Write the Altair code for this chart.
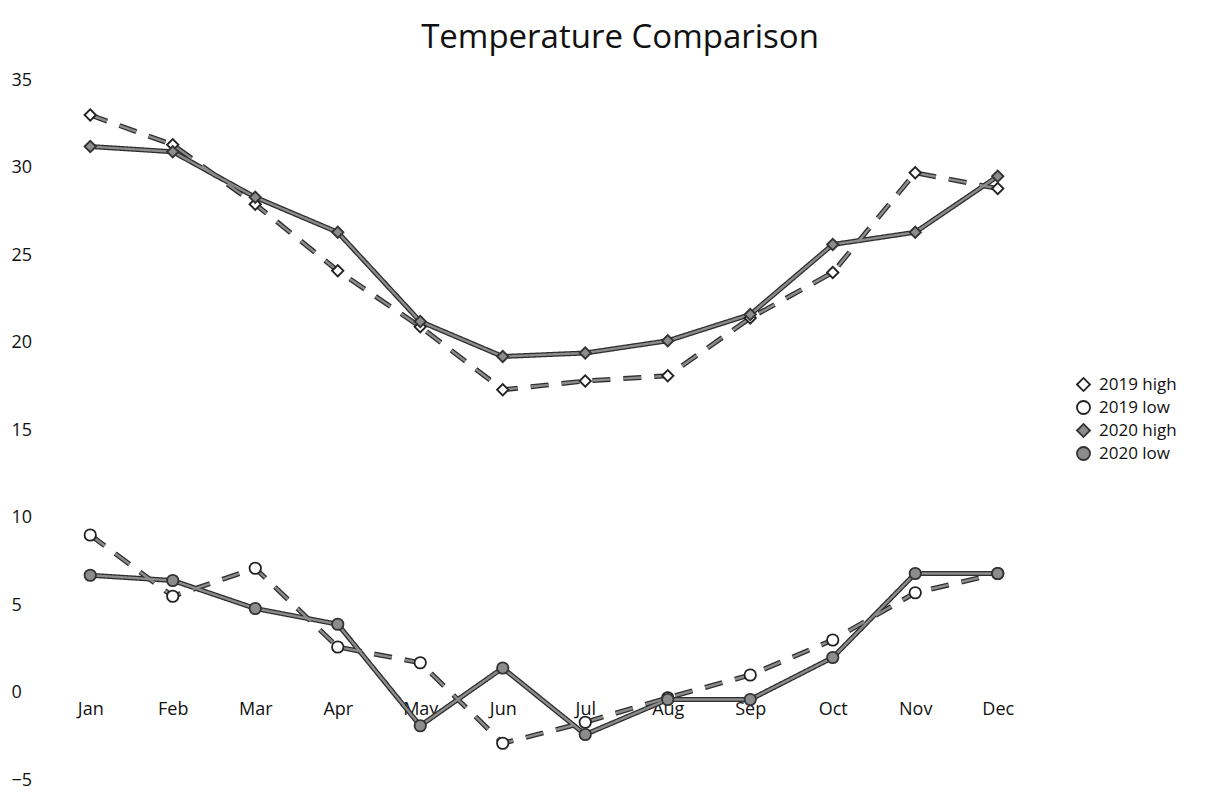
import altair as alt
import pandas as pd

months = ["Jan", "Feb", "Mar", "Apr", "May", "Jun", "Jul", "Aug", "Sep", "Oct", "Nov", "Dec"]
series_names = ["2019 high", "2019 low", "2020 high", "2020 low"]
high_2019 = [33.0, 31.3, 27.9, 24.1, 20.9, 17.3, 17.8, 18.1, 21.4, 24.0, 29.7, 28.8]
low_2019 = [9.0, 5.5, 7.1, 2.6, 1.7, -2.9, -1.7, -0.3, 1.0, 3.0, 5.7, 6.8]
high_2020 = [31.2, 30.9, 28.3, 26.3, 21.2, 19.2, 19.4, 20.1, 21.6, 25.6, 26.3, 29.5]
low_2020 = [6.7, 6.4, 4.8, 3.9, -1.9, 1.4, -2.4, -0.4, -0.4, 2.0, 6.8, 6.8]
y_ticks = [-5, 0, 5, 10, 15, 20, 25, 30, 35]

rows = []
for name, vals in zip(series_names, [high_2019, low_2019, high_2020, low_2020]):
    for m, v in zip(months, vals):
        rows.append({"month": m, "series": name, "year": name.split()[0], "value": v})
df = pd.DataFrame(rows)

W, H = 990, 700
FONT = "Open Sans"

x_enc = alt.X("month:N", sort=months,
              scale=alt.Scale(type="point", padding=0.5),
              axis=alt.Axis(title=None, domain=False, ticks=False, labelAngle=0,
                            offset=-87.5, labelPadding=8, labelFontSize=18,
                            labelColor="#111", labelFont=FONT, grid=False))
y_enc = alt.Y("value:Q", scale=alt.Scale(domain=[-5, 35], nice=False, zero=False),
              axis=alt.Axis(title=None, values=y_ticks, domain=False, ticks=False,
                            grid=False, labelAlign="left", labelPadding=38,
                            labelFontSize=18, labelColor="#111", labelFont=FONT))

dash_scale = alt.Scale(domain=["2019", "2020"], range=[[18, 13], [1, 0]])

base = alt.Chart(df)

line_dark = base.mark_line(strokeWidth=5, color="#2e2e2e", strokeCap="butt").encode(
    x=x_enc, y=y_enc, detail="series:N",
    strokeDash=alt.StrokeDash("year:N", scale=dash_scale, legend=None))
line_light = base.mark_line(strokeWidth=2.4, color="#8c8c8c", strokeCap="butt").encode(
    x=x_enc, y=y_enc, detail="series:N",
    strokeDash=alt.StrokeDash("year:N", scale=dash_scale, legend=None))

legend = alt.Legend(orient="none", legendX=1026, legendY=296, title=None,
                    labelFontSize=17, labelFont=FONT, labelColor="#111",
                    symbolSize=170, symbolStrokeWidth=1.8, rowPadding=2,
                    labelOffset=7)

points = base.mark_point(filled=True, size=130, strokeWidth=1.8, opacity=1).encode(
    x=x_enc, y=y_enc,
    shape=alt.Shape("series:N", scale=alt.Scale(domain=series_names,
                                                 range=["diamond", "circle", "diamond", "circle"]),
                    legend=legend),
    fill=alt.Fill("series:N", scale=alt.Scale(domain=series_names,
                                               range=["#ffffff", "#ffffff", "#8c8c8c", "#8c8c8c"]),
                  legend=legend),
    stroke=alt.Stroke("series:N", scale=alt.Scale(domain=series_names,
                                                   range=["#222222", "#222222", "#333333", "#333333"]),
                      legend=legend),
)

chart = alt.layer(line_dark, line_light, points).properties(
    width=W, height=H,
    title=alt.TitleParams("Temperature Comparison", fontSize=33, font=FONT,
                          fontWeight="normal", color="#111", offset=16, dx=76),
    autosize=alt.AutoSizeParams(type="none"),
    padding={"left": 41, "top": 72, "right": 183, "bottom": 12},
    background="white",
).configure_view(stroke="transparent")

chart.save("out.html", embed_options={"renderer": "svg", "actions": False})
